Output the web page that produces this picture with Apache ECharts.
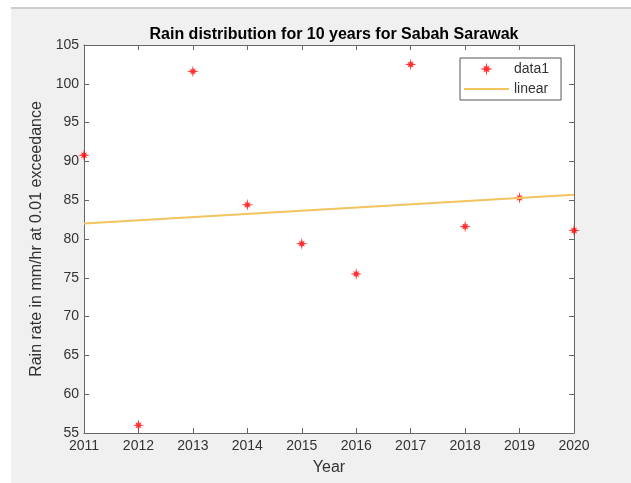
<!DOCTYPE html>
<html>
<head>
<meta charset="utf-8">
<script src="https://cdn.jsdelivr.net/npm/echarts@6/dist/echarts.min.js"></script>
<style>
  html, body { margin: 0; padding: 0; background: #ffffff; }
  #wrap { position: relative; width: 631px; height: 483px; }
  #panel { position: absolute; left: 11px; top: 7px; right: 0; bottom: 0; background: #f0f0f0; border-top: 2px solid #cdcdcd; }
  #chart { position: absolute; left: 0; top: 0; width: 631px; height: 483px; }
</style>
</head>
<body>
<div id="wrap">
  <div id="panel"></div>
  <div id="chart"></div>
</div>
<script>
// values
const years = [2011, 2012, 2013, 2014, 2015, 2016, 2017, 2018, 2019, 2020];
const rainRate = [90.8, 56.0, 101.6, 84.4, 79.4, 75.5, 102.5, 81.6, 85.3, 81.1];
const fitYears = [2011, 2020];
const fitValues = [82.0, 85.7];

const font = "'Liberation Sans', Arial, sans-serif";
const axisColor = '#666666';
const labelColor = '#333333';
const fitColor = '#f2c35e';

// asterisk-like marker, like the MATLAB '*'
const starPath = 'path://M0,-10 L1.4,-3.3 L4.9,-4.9 L3.3,-1.4 L10,0 L3.3,1.4 L4.9,4.9 L1.4,3.3 L0,10 L-1.4,3.3 L-4.9,4.9 L-3.3,1.4 L-10,0 L-3.3,-1.4 L-4.9,-4.9 L-1.4,-3.3 Z';
const lineIcon = 'path://M0,0 L45,0 L45,2 L0,2 Z';

const scatterData = years.map((y, i) => [y, rainRate[i]]);
const fitData = fitYears.map((y, i) => [y, fitValues[i]]);

const chart = echarts.init(document.getElementById('chart'));

const plainAxis = {
  axisLine: { show: true, lineStyle: { color: axisColor, width: 1 } },
  axisTick: { show: true, inside: true, length: 5, lineStyle: { color: axisColor } },
  splitLine: { show: false },
};

const options = {
  animation: false,
  title: {
    text: 'Rain distribution for 10 years for Sabah Sarawak',
    left: 329,
    top: 22,
    textAlign: 'center',
    textStyle: { fontFamily: font, fontSize: 16, fontWeight: 'bold', color: '#000000' },
  },
  grid: {
    left: 84,
    right: 57,
    top: 45,
    bottom: 50,
    show: true,
    backgroundColor: '#ffffff',
    borderWidth: 0,
  },
  legend: {
    orient: 'vertical',
    left: 460,
    top: 58,
    padding: [4, 12, 4, 4],
    itemWidth: 45,
    itemHeight: 13,
    itemGap: 6,
    backgroundColor: '#ffffff',
    borderColor: '#555555',
    borderWidth: 1,
    textStyle: { fontFamily: font, fontSize: 14, color: labelColor },
    data: [
      { name: 'data1', icon: starPath },
      { name: 'linear', icon: lineIcon },
    ],
  },
  xAxis: [
    Object.assign({}, plainAxis, {
      type: 'value',
      min: 2011,
      max: 2020,
      interval: 1,
      position: 'bottom',
      name: 'Year',
      nameLocation: 'middle',
      nameGap: 27,
      nameTextStyle: { fontFamily: font, fontSize: 16, color: labelColor },
      axisLabel: {
        fontFamily: font,
        fontSize: 14,
        color: labelColor,
        margin: 6,
        formatter: (v) => String(v),
      },
    }),
    Object.assign({}, plainAxis, {
      type: 'value',
      min: 2011,
      max: 2020,
      interval: 1,
      position: 'top',
      axisLabel: { show: false },
    }),
  ],
  yAxis: [
    Object.assign({}, plainAxis, {
      type: 'value',
      min: 55,
      max: 105,
      interval: 5,
      position: 'left',
      name: 'Rain rate in mm/hr at 0.01 exceedance',
      nameLocation: 'middle',
      nameGap: 37,
      nameTextStyle: { fontFamily: font, fontSize: 16, color: labelColor },
      axisLabel: { fontFamily: font, fontSize: 14, color: labelColor, margin: 5 },
    }),
    Object.assign({}, plainAxis, {
      type: 'value',
      min: 55,
      max: 105,
      interval: 5,
      position: 'right',
      axisLabel: { show: false },
    }),
  ],
  series: [
    {
      name: 'data1',
      type: 'scatter',
      symbol: starPath,
      symbolSize: 12,
      itemStyle: { color: '#ff0000' },
      data: scatterData,
    },
    {
      name: 'linear',
      type: 'line',
      showSymbol: false,
      symbol: 'none',
      lineStyle: { color: fitColor, width: 2 },
      itemStyle: { color: fitColor },
      data: fitData,
    },
  ],
};

chart.setOption(options);
</script>
</body>
</html>
